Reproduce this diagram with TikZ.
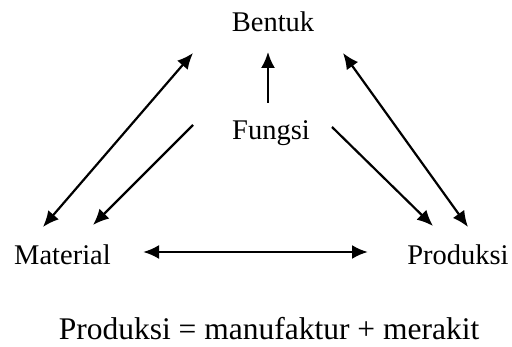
\documentclass[tikz,border=0pt]{standalone}
\usepackage{fontspec}
\setmainfont{Liberation Serif}
\usetikzlibrary{arrows.meta}
\begin{document}
\begin{tikzpicture}[x=1pt,y=-1pt,
  lbl/.style={anchor=base,inner sep=0pt,font=\fontsize{28.5}{30}\selectfont},
  note/.style={anchor=base,inner sep=0pt,font=\fontsize{31.5}{33}\selectfont},
  tip/.style={Latex[length=16pt,width=14pt]},
  link/.style={line width=2.2pt,-{Latex[length=16pt,width=14pt]}},
  dlink/.style={line width=2.2pt,{Latex[length=16pt,width=14pt]}-{Latex[length=16pt,width=14pt]}}]
\useasboundingbox (0,0) rectangle (512,347);
% labels
\node[lbl] (bentuk) at (273,32) {Bentuk};
\node[lbl] (fungsi) at (271,140) {Fungsi};
\node[lbl] (material) at (62.5,265) {Material};
\node[lbl] (produksi) at (458,265) {Produksi};
\node[note] (def) at (269,340) {Produksi = manufaktur + merakit};
% arrow end points
\coordinate (fT) at (268,103);
\coordinate (bF) at (268,52);
\coordinate (mB) at (43,227);
\coordinate (bM) at (193,53);
\coordinate (fM) at (193,125);
\coordinate (mF) at (93,225);
\coordinate (bP) at (343,53);
\coordinate (pB) at (468,227);
\coordinate (fP) at (332,127);
\coordinate (pF) at (433,226);
\coordinate (mP) at (143,252);
\coordinate (pM) at (368,252);
% connectors
\draw[link] (fT) -- (bF);
\draw[dlink] (mB) -- (bM);
\draw[link] (fM) -- (mF);
\draw[dlink] (bP) -- (pB);
\draw[link] (fP) -- (pF);
\draw[dlink,line width=2.6pt] (mP) -- (pM);
\end{tikzpicture}
\end{document}
